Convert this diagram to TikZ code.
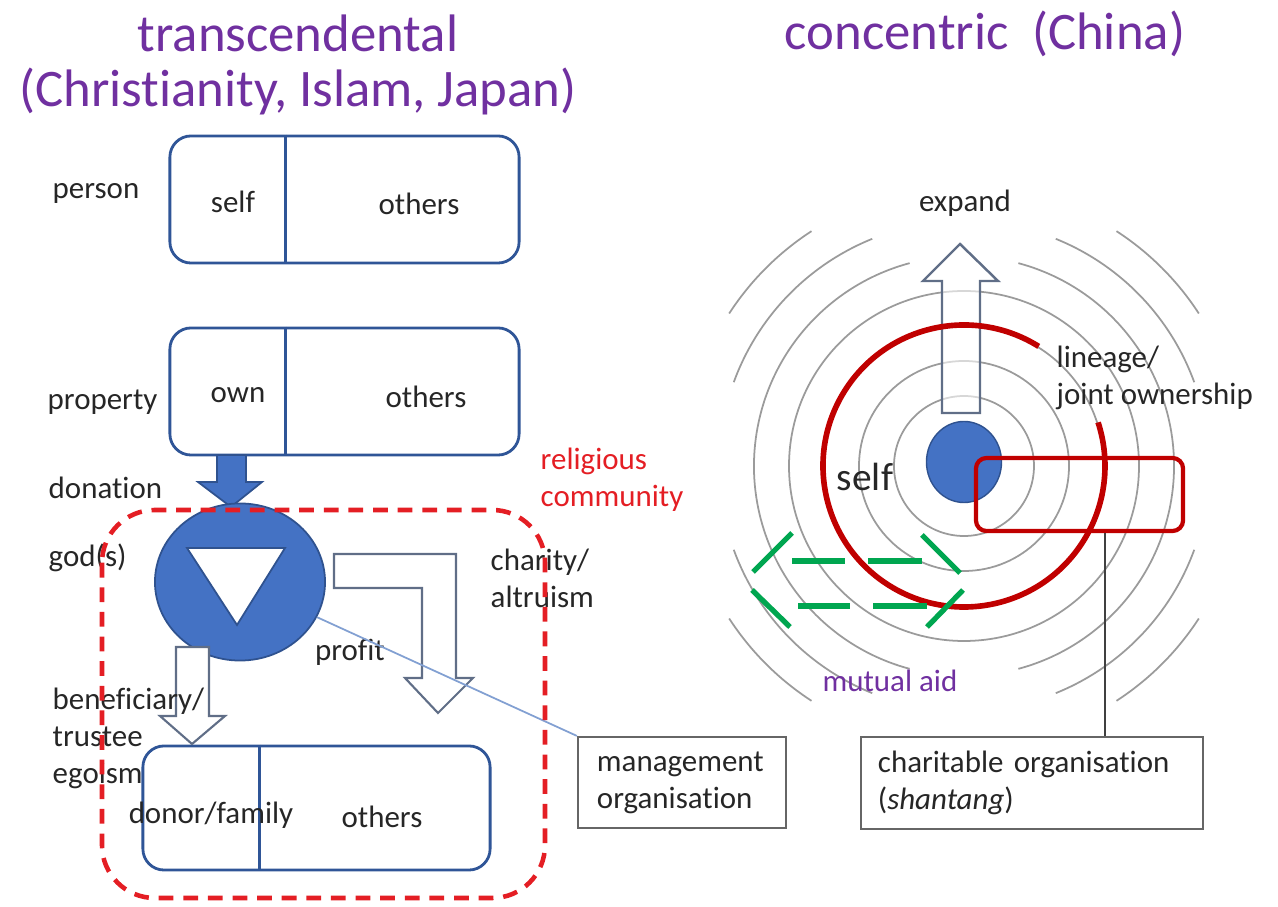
\documentclass[tikz,border=0pt]{standalone}
\usepackage{fontspec}
\setmainfont{Carlito}[RawFeature={-liga;-clig;-calt;-dlig}]
\usepackage{xcolor}
\usepackage{tikz}
\usetikzlibrary{positioning}
\usetikzlibrary{calc}
\usetikzlibrary{shapes.geometric}
\definecolor{ink}{RGB}{38,38,38}
\definecolor{titlepurple}{RGB}{112,48,160}
\definecolor{boxblue}{RGB}{47,85,151}
\definecolor{godblue}{RGB}{68,114,196}
\definecolor{godedge}{RGB}{47,82,143}
\definecolor{arrowedge}{RGB}{96,110,135}
\definecolor{commred}{RGB}{228,30,36}
\definecolor{lineagered}{RGB}{192,0,0}
\definecolor{aidgreen}{RGB}{0,166,80}
\definecolor{ring}{RGB}{155,155,155}
\definecolor{linkblue}{RGB}{130,160,210}
\tikzset{lbl/.style={font=\fontsize{8.8}{10.5}\selectfont, text=ink, inner sep=0pt}}
\tikzset{ttl/.style={font=\fontsize{15}{18}\selectfont, text=titlepurple, inner sep=0pt}}
\tikzset{pair/.style={draw=boxblue, line width=0.8pt, rounded corners=6pt}}
\tikzset{hollow/.style={draw=arrowedge, fill=white, line width=0.6pt}}
\tikzset{ringline/.style={draw=ring, line width=0.5pt}}
\tikzset{aid/.style={draw=aidgreen, line width=1.5pt}}
\tikzset{plainbox/.style={draw=black!60, line width=0.6pt, font=\fontsize{8.8}{10.5}\selectfont, text=ink, align=left}}

\begin{document}
\begin{tikzpicture}[x=0.01cm, y=-0.01cm]
\useasboundingbox (0,0) rectangle (1278,907);

\node[ttl, anchor=base] (trans) at (298,52) {transcendental};
\node[ttl, anchor=base] (transof) at (298,107) {(Christianity, Islam, Japan)};
\node[ttl, anchor=base] (conc) at (985,50) {concentric\hspace{0.45em}(China)};

\node[pair, minimum width=3.49cm, minimum height=1.27cm] (person) at (344.5,199.5) {};
\node[pair, minimum width=3.49cm, minimum height=1.27cm] (property) at (344.5,391.5) {};
\node[pair, minimum width=3.47cm, minimum height=1.24cm] (heirs) at (316.5,808) {};
\foreach \b/\d in {person/1.17cm, property/1.17cm, heirs/1.18cm}
  \draw[boxblue, line width=0.8pt] ([xshift=\d]\b.north west) -- ([xshift=\d]\b.south west);

\draw[fill=godblue, draw=godedge, line width=0.5pt] (217,455) -- (246,455) -- (246,482) -- (262,482) -- (231,507) -- (198,482) -- (217,482) -- cycle;
\node[ellipse, fill=godblue, draw=godedge, line width=0.5pt, minimum width=1.70cm, minimum height=1.57cm, inner sep=0pt] (god) at (240,582) {};
\draw[fill=white, draw=godedge, line width=0.5pt] (187,548) -- (285,548) -- (237,625) -- cycle;

\draw[hollow] (334,554) -- (456,554) -- (456,678) -- (473,678) -- (438,713) -- (405,678) -- (422,678) -- (422,588) -- (334,588) -- cycle;
\draw[hollow] (176,647) -- (209,647) -- (209,716) -- (225,716) -- (192,744) -- (160,716) -- (176,716) -- cycle;

\node[lbl] (self) at (233,202) {self};
\node[lbl] (othersA) at (419,204) {others};
\node[lbl] (own) at (238,395) {own};
\node[lbl] (othersB) at (426,397) {others};
\node[lbl] (donor) at (211,815) {donor/family};
\node[lbl] (othersC) at (382,817) {others};

\node[lbl, anchor=west] (personlbl) at (52,193) {person};
\node[lbl, anchor=west] (proplbl) at (47,402) {property};
\node[lbl, anchor=west] (donlbl) at (48,488) {donation};
\node[lbl, anchor=west] (godlbl) at (48,558) {god(s)};
\node[lbl, anchor=west, align=left] (benlbl) at (52,738) {beneficiary/\\trustee\\egoism};

\node[lbl] (profit) at (350,652) {profit};
\node[lbl, anchor=west, align=left] (charity) at (490,578) {charity/\\altruism};
\node[lbl, anchor=west, align=left, text=commred] (relig) at (540,480) {religious\\community};

\node[plainbox, minimum width=2.08cm, minimum height=0.91cm, text width=1.70cm] (mgmt) at (682,782.5) {management\\organisation};
\draw[linkblue, line width=0.5pt] (god) -- (mgmt.north west);

\draw[commred, line width=1.3pt, dash pattern=on 4.2pt off 2.8pt, rounded corners=15pt] (102,510) rectangle (545,898);

% rings round the self
\coordinate (ctr) at (964,466);
\foreach \r in {70,105,140,175}
  \draw[ringline] (ctr) circle[radius=\r];
\foreach \s/\e in {-75/75, 105/255}
  \draw[ringline] ($(ctr)+(\s:210)$) arc[start angle=\s, end angle=\e, radius=210];
\foreach \s in {20,112,200,292}
  \draw[ringline] ($(ctr)+(\s:245)$) arc[start angle=\s, end angle=\s+48, radius=245];
\foreach \s in {33,123,213,303}
  \draw[ringline] ($(ctr)+(\s:280)$) arc[start angle=\s, end angle=\s+24, radius=280];

\draw[draw=arrowedge, fill=white, fill opacity=0.6, line width=0.7pt] (942,413) -- (942,281) -- (923,281) -- (960,244) -- (998,281) -- (980,281) -- (980,413) -- cycle;
\node[lbl] (expand) at (965,203) {expand};

\draw[lineagered, line width=1.6pt] ($(ctr)+(-58:141)$) arc[start angle=-58, end angle=-378, radius=141];
\node[ellipse, fill=godblue, draw=godedge, line width=0.4pt, minimum width=0.75cm, minimum height=0.81cm, inner sep=0pt] (core) at (964,462) {};
\node[draw=lineagered, line width=1.2pt, rounded corners=3pt, minimum width=2.07cm, minimum height=0.73cm] (clan) at (1079.5,494.5) {};
\node[font=\fontsize{11.2}{13}\selectfont, text=ink, inner sep=0pt] (selfc) at (865,477) {self};
\node[lbl, anchor=west, align=left] (lineage) at (1056,378) {lineage/\\joint ownership};

\foreach \xa/\ya/\xb/\yb in {792/533/753/572, 792/561/845/561, 868/561/922/561, 922/535/960/573,
    752/590/790/627, 798/606/850/606, 873/606/927/606, 963/590/927/627}
  \draw[aid] (\xa,\ya) -- (\xb,\yb);
\node[lbl, text=titlepurple] (mutual) at (890,681) {mutual aid};

\node[plainbox, minimum width=3.42cm, minimum height=0.92cm, text width=3.08cm] (shantang) at (1032,783) {charitable organisation\\(\textit{shantang})};
\coordinate (tap) at ([xshift=0.73cm]shantang.north);
\draw[black!75, line width=0.6pt] (tap) -- (tap |- clan.south);
\end{tikzpicture}
\end{document}
